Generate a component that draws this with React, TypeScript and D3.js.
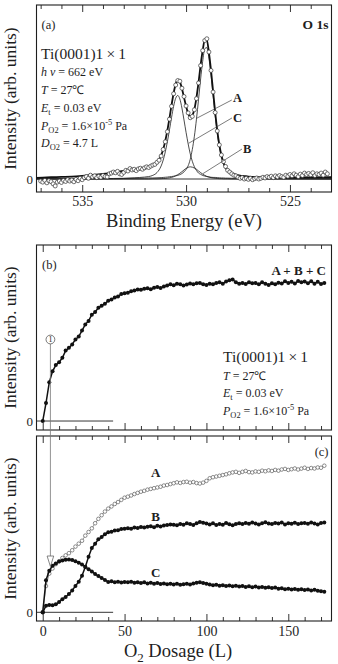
import React, { useEffect, useRef } from 'react';
import * as d3 from 'd3';

// (a) O 1s spectrum taken at 4.7 L: one point every 0.1 eV from 537.0 eV
const beStart = 537.0;
const beStep = -0.1;
const o1sData = [
  -0.012, -0.018, -0.008, -0.022, -0.01, -0.015, -0.028, -0.04, -0.018, -0.012,
  -0.02, -0.008, -0.014, -0.004, -0.012, -0.006, -0.016, -0.002, -0.01, 0.004,
  -0.004, 0.008, 0.014, 0.004, 0.022, 0.012, 0.018, 0.008, 0.016, 0.01,
  0.02, 0.014, 0.012, 0.03, 0.034, 0.04, 0.036, 0.044, 0.03, 0.026,
  0.038, 0.05, 0.046, 0.06, 0.052, 0.056, 0.048, 0.058, 0.062, 0.056,
  0.064, 0.07, 0.066, 0.074, 0.08, 0.084, 0.096, 0.108, 0.132, 0.17,
  0.214, 0.272, 0.344, 0.418, 0.49, 0.54, 0.566, 0.562, 0.522, 0.474,
  0.42, 0.38, 0.352, 0.36, 0.398, 0.462, 0.552, 0.652, 0.738, 0.796,
  0.806, 0.73, 0.624, 0.5, 0.382, 0.276, 0.196, 0.138, 0.1, 0.072,
  0.05, 0.04, 0.03, 0.022, 0.018, 0.01, 0.004, 0.008, 0.0, 0.004,
  -0.002, 0.004, -0.004, 0.002, 0.006, 0.0, 0.004, 0.01, 0.006, 0.014,
  0.01, 0.016, 0.008, 0.018, 0.012, 0.02, 0.014, 0.01, 0.022, 0.016,
  0.026, 0.018, 0.03, 0.022, 0.014, 0.028, 0.02, 0.034, 0.026, 0.032,
  0.024, 0.036, 0.02, 0.03, 0.026, 0.034, 0.022, 0.04, 0.03,
];

// fitted envelope and the three components of (a)
const fitEnergy = [
  537.2, 536.5, 536, 535.5, 535, 534.5, 534, 533.5, 533, 532.5,
  532, 531.8, 531.6, 531.4, 531.2, 531.1, 531.0, 530.9, 530.8, 530.7,
  530.6, 530.5, 530.4, 530.3, 530.2, 530.1, 530.0, 529.9, 529.8, 529.7,
  529.6, 529.5, 529.4, 529.3, 529.2, 529.1, 529.0, 528.9, 528.8, 528.7,
  528.6, 528.5, 528.4, 528.3, 528.2, 528.1, 528.0, 527.8, 527.6, 527.4,
  527.2, 527.0, 526.5, 526, 525, 524, 523,
];
const fitTotal = [
  0.007, 0.01, 0.012, 0.014, 0.018, 0.023, 0.029, 0.037, 0.047, 0.055,
  0.064, 0.069, 0.078, 0.095, 0.136, 0.171, 0.219, 0.279, 0.349, 0.424,
  0.493, 0.546, 0.569, 0.559, 0.52, 0.469, 0.418, 0.377, 0.358, 0.366,
  0.401, 0.468, 0.555, 0.655, 0.739, 0.799, 0.796, 0.727, 0.625, 0.504,
  0.384, 0.28, 0.197, 0.137, 0.095, 0.068, 0.053, 0.033, 0.025, 0.02,
  0.017, 0.014, 0.01, 0.009, 0.009, 0.009, 0.01,
];
const fitA = [
  0.001, 0.001, 0.001, 0.001, 0.001, 0.001, 0.002, 0.002, 0.003, 0.004,
  0.005, 0.006, 0.006, 0.007, 0.008, 0.009, 0.01, 0.011, 0.013, 0.014,
  0.016, 0.018, 0.021, 0.025, 0.031, 0.041, 0.055, 0.076, 0.113, 0.17,
  0.246, 0.344, 0.457, 0.575, 0.677, 0.749, 0.755, 0.695, 0.597, 0.481,
  0.365, 0.264, 0.183, 0.124, 0.084, 0.058, 0.044, 0.026, 0.019, 0.014,
  0.012, 0.01, 0.006, 0.005, 0.003, 0.002, 0.001,
];
const fitB = [
  0, 0, 0, 0, 0, 0, 0, 0, 0, 0,
  0, 0, 0.001, 0.001, 0.002, 0.003, 0.003, 0.005, 0.007, 0.009,
  0.013, 0.019, 0.025, 0.033, 0.042, 0.052, 0.061, 0.067, 0.07, 0.068,
  0.063, 0.056, 0.046, 0.037, 0.028, 0.021, 0.015, 0.011, 0.008, 0.006,
  0.004, 0.003, 0.002, 0.002, 0.001, 0.001, 0.001, 0, 0, 0,
  0, 0, 0, 0, 0, 0, 0,
];
const fitC = [
  0.001, 0.001, 0.001, 0.001, 0.002, 0.002, 0.002, 0.003, 0.004, 0.007,
  0.011, 0.014, 0.021, 0.037, 0.075, 0.109, 0.156, 0.214, 0.282, 0.353,
  0.418, 0.464, 0.48, 0.46, 0.408, 0.339, 0.268, 0.202, 0.145, 0.102,
  0.07, 0.049, 0.034, 0.027, 0.02, 0.017, 0.014, 0.012, 0.01, 0.009,
  0.009, 0.008, 0.007, 0.006, 0.006, 0.005, 0.005, 0.004, 0.004, 0.003,
  0.003, 0.003, 0.002, 0.002, 0.001, 0.001, 0.001,
];

// (b) and (c) uptake curves: one point every 2 L from 0 L
const doseStep = 2;
const uptakeSum = [
  0, 0.13, 0.28, 0.36, 0.405, 0.425, 0.458, 0.51, 0.53, 0.555,
  0.59, 0.612, 0.655, 0.7, 0.725, 0.77, 0.79, 0.82, 0.835, 0.85,
  0.872, 0.88, 0.895, 0.902, 0.92, 0.925, 0.93, 0.94, 0.945, 0.952,
  0.95, 0.958, 0.962, 0.955, 0.966, 0.97, 0.963, 0.975, 0.982, 0.99,
  0.984, 0.995, 0.99, 0.982, 0.988, 0.996, 0.99, 0.998, 1.0, 0.99,
  0.985, 0.995, 0.99, 1.0, 1.006, 0.995, 1.01, 1.02, 1.025, 1.005,
  0.995, 1.0, 0.992, 1.005, 0.998, 1.0, 0.99, 1.006, 0.995, 0.985,
  0.998, 0.99, 1.002, 0.996, 1.012, 1.0, 1.008, 0.996, 1.015, 1.005,
  1.01, 0.998, 1.012, 0.995, 1.008, 0.992, 1.0,
];
const uptakeA = [
  0, 0.18, 0.265, 0.3, 0.33, 0.35, 0.372, 0.39, 0.405, 0.425,
  0.45, 0.47, 0.49, 0.525, 0.55, 0.575, 0.61, 0.64, 0.665, 0.69,
  0.71, 0.725, 0.742, 0.755, 0.77, 0.785, 0.792, 0.8, 0.81, 0.818,
  0.826, 0.832, 0.84, 0.845, 0.85, 0.855, 0.86, 0.868, 0.872, 0.878,
  0.884, 0.89, 0.886, 0.892, 0.894, 0.888, 0.892, 0.885, 0.882, 0.888,
  0.9, 0.918, 0.925, 0.93, 0.935, 0.94, 0.945, 0.952, 0.958, 0.962,
  0.955, 0.962, 0.968, 0.96, 0.958, 0.965, 0.962, 0.97, 0.966, 0.972,
  0.968, 0.975, 0.97, 0.978, 0.982, 0.975, 0.98, 0.985, 0.978, 0.984,
  0.99, 0.982, 0.988, 0.985, 0.992, 0.99, 1.004,
];
const uptakeB = [
  0, 0.045, 0.05, 0.048, 0.055, 0.07, 0.09, 0.105, 0.125, 0.15,
  0.18, 0.21, 0.25, 0.31, 0.38, 0.44, 0.47, 0.5, 0.515, 0.535,
  0.548, 0.552, 0.56, 0.562, 0.57, 0.572, 0.575, 0.572, 0.58, 0.578,
  0.584, 0.58, 0.586, 0.59, 0.582, 0.592, 0.588, 0.595, 0.598, 0.602,
  0.6, 0.596, 0.605, 0.6, 0.61, 0.604, 0.598, 0.61, 0.618, 0.614,
  0.608, 0.602, 0.61, 0.598, 0.605, 0.6, 0.612, 0.603, 0.596, 0.605,
  0.61, 0.604, 0.612, 0.606, 0.615, 0.608, 0.602, 0.61, 0.616, 0.608,
  0.605, 0.612, 0.608, 0.615, 0.602, 0.61, 0.606, 0.614, 0.604, 0.61,
  0.612, 0.607, 0.615, 0.608, 0.602, 0.612, 0.615,
];
const uptakeC = [
  0, 0.22, 0.285, 0.318, 0.335, 0.348, 0.355, 0.36, 0.362, 0.358,
  0.35, 0.34, 0.328, 0.312, 0.295, 0.28, 0.262, 0.248, 0.235, 0.222,
  0.208, 0.212, 0.206, 0.21, 0.204, 0.208, 0.205, 0.21, 0.202, 0.206,
  0.2, 0.205, 0.198, 0.202, 0.196, 0.2, 0.194, 0.198, 0.192, 0.196,
  0.19, 0.195, 0.188, 0.192, 0.196, 0.19, 0.198, 0.202, 0.205, 0.2,
  0.196, 0.19, 0.185, 0.188, 0.182, 0.186, 0.18, 0.184, 0.178, 0.182,
  0.176, 0.18, 0.174, 0.178, 0.172, 0.176, 0.17, 0.174, 0.168, 0.172,
  0.166, 0.17, 0.162, 0.165, 0.158, 0.162, 0.156, 0.16, 0.154, 0.158,
  0.152, 0.156, 0.15, 0.154, 0.148, 0.145, 0.14,
];

const beMajor = [535, 530, 525];
const beMinor = [537, 536, 534, 533, 532, 531, 529, 528, 527, 526, 524];
const doseMajor = [0, 50, 100, 150];
const doseMinor = [10, 20, 30, 40, 60, 70, 80, 90, 110, 120, 130, 140, 160, 170];
const exposure = 4.7; // L, dosage of spectrum (a)

const FONT = '"Liberation Serif", "Times New Roman", Times, serif';
const INK = '#1e1e1e';

type Seg = { t: string; it?: boolean; sub?: boolean; sup?: boolean };

const buildChart = (el: SVGSVGElement) => {
  const svg = d3.select(el);
  svg.selectAll('*').remove();

  const L = 36.5,
    R = 331.5;
  const xBE = d3.scaleLinear().domain([537.2, 523.0]).range([L, R]);
  const yA = d3.scaleLinear().domain([-0.0747, 1.0]).range([192, 5]);
  const xDose = d3.scaleLinear().domain([-3.8, 176.4]).range([L, R]);
  const yB = d3.scaleLinear().domain([-0.065, 1.275]).range([430, 245]);
  const yC = d3.scaleLinear().domain([-0.0596, 1.2075]).range([621, 436]);

  const rich = (x: number, y: number, size: number, segs: Seg[], anchor = 'start', weight = 'normal') => {
    const text = svg
      .append('text')
      .attr('x', x)
      .attr('y', y)
      .attr('font-family', FONT)
      .attr('font-size', size)
      .attr('font-weight', weight)
      .attr('fill', INK)
      .attr('text-anchor', anchor);
    let shift = 0;
    segs.forEach(s => {
      const target = s.sub ? size * 0.28 : s.sup ? -size * 0.4 : 0;
      const span = text.append('tspan').attr('dy', target - shift).text(s.t);
      if (s.it) span.attr('font-style', 'italic');
      if (s.sub || s.sup) span.attr('font-size', size * 0.7);
      shift = target;
    });
    return text;
  };

  const styleAxis = (g: any) => {
    g.select('.domain').remove();
    g.selectAll('line').attr('stroke', INK).attr('stroke-width', 0.9);
    g.selectAll('text').attr('font-family', FONT).attr('font-size', 14).attr('fill', INK);
  };

  // inward ticks on top and bottom of a frame, labels below if asked
  const xAxes = (x: any, major: number[], minor: number[], y0: number, y1: number, pad: number | null) => {
    [
      [major, 7],
      [minor, 4],
    ].forEach(([vals, len]: any) => {
      svg
        .append('g')
        .attr('transform', `translate(0,${y1})`)
        .call(d3.axisBottom(x).tickValues(vals).tickSizeInner(-len).tickSizeOuter(0).tickFormat(() => ''))
        .call(styleAxis);
      svg
        .append('g')
        .attr('transform', `translate(0,${y0})`)
        .call(d3.axisTop(x).tickValues(vals).tickSizeInner(-len).tickSizeOuter(0).tickFormat(() => ''))
        .call(styleAxis);
    });
    if (pad !== null) {
      svg
        .append('g')
        .attr('transform', `translate(0,${y1})`)
        .call(d3.axisBottom(x).tickValues(major).tickSize(0).tickPadding(pad).tickFormat(d3.format('d')))
        .call(styleAxis);
    }
  };

  const frame = (y0: number, y1: number) =>
    svg
      .append('rect')
      .attr('x', L)
      .attr('y', y0)
      .attr('width', R - L)
      .attr('height', y1 - y0)
      .attr('fill', 'none')
      .attr('stroke', INK)
      .attr('stroke-width', 1.1);

  const yTitle = (cy: number) =>
    svg
      .append('text')
      .attr('transform', `translate(16,${cy}) rotate(-90)`)
      .attr('text-anchor', 'middle')
      .attr('font-family', FONT)
      .attr('font-size', 17.5)
      .attr('fill', INK)
      .text('Intensity (arb. units)');

  const zeroLabel = (y: number) =>
    svg
      .append('text')
      .attr('x', 33)
      .attr('y', y)
      .attr('dy', '0.35em')
      .attr('text-anchor', 'end')
      .attr('font-family', FONT)
      .attr('font-size', 13)
      .attr('fill', INK)
      .text('0');

  // ****************** panel (a) ***************************
  frame(5, 192);
  xAxes(xBE, beMajor, beMinor, 5, 192, 4.3);
  yTitle(98.5);
  zeroLabel(yA(0));

  svg
    .append('line')
    .attr('x1', L)
    .attr('x2', R)
    .attr('y1', yA(0))
    .attr('y2', yA(0))
    .attr('stroke', INK)
    .attr('stroke-width', 0.9);

  const fitLine = (vals: number[]) =>
    d3
      .line<number>()
      .x((d, i) => xBE(fitEnergy[i]))
      .y(d => yA(d))
      .curve(d3.curveMonotoneX)(vals);

  [fitA, fitB, fitC].forEach(vals => {
    svg.append('path').attr('d', fitLine(vals)).attr('fill', 'none').attr('stroke', INK).attr('stroke-width', 0.8);
  });
  svg.append('path').attr('d', fitLine(fitTotal)).attr('fill', 'none').attr('stroke', '#111').attr('stroke-width', 1.8);

  svg
    .append('g')
    .selectAll('circle')
    .data(o1sData)
    .enter()
    .append('circle')
    .attr('cx', (d, i) => xBE(beStart + i * beStep))
    .attr('cy', d => yA(d))
    .attr('r', 2)
    .attr('fill', '#fff')
    .attr('stroke', '#333')
    .attr('stroke-width', 0.7);

  // component labels with leader lines
  const leaders = [
    { name: 'A', tx: 527.74, ty: 0.44, from: [527.8, 0.454], to: [529.49, 0.349] },
    { name: 'C', tx: 527.74, ty: 0.33, from: [527.79, 0.351], to: [529.88, 0.205] },
    { name: 'B', tx: 527.26, ty: 0.152, from: [527.31, 0.172], to: [529.2, 0.03] },
  ];
  leaders.forEach(l => {
    svg
      .append('line')
      .attr('x1', xBE(l.from[0]))
      .attr('y1', yA(l.from[1]))
      .attr('x2', xBE(l.to[0]))
      .attr('y2', yA(l.to[1]))
      .attr('stroke', '#444')
      .attr('stroke-width', 0.7);
    rich(xBE(l.tx), yA(l.ty), 12.5, [{ t: l.name }], 'start', 'bold');
  });

  rich(41.5, 28.5, 12.5, [{ t: '(a)' }]);
  rich(328.5, 28.5, 13.5, [{ t: 'O 1s' }], 'end', 'bold');
  rich(41, 58.5, 15.5, [{ t: 'Ti(0001)1\u2009×\u20091' }]);
  rich(41, 75.5, 12, [{ t: 'h ν', it: true }, { t: ' = 662 eV' }]);
  rich(41, 94, 12, [{ t: 'T', it: true }, { t: ' = 27℃' }]);
  rich(41, 111.5, 12, [{ t: 'E', it: true }, { t: 't', sub: true }, { t: ' = 0.03 eV' }]);
  rich(41, 129.5, 12, [{ t: 'P', it: true }, { t: 'O2', sub: true }, { t: ' = 1.6×10' }, { t: '-5', sup: true }, { t: ' Pa' }]);
  rich(41, 147, 12, [{ t: 'D', it: true }, { t: 'O2', sub: true }, { t: ' = 4.7 L' }]);

  svg
    .append('text')
    .attr('x', (L + R) / 2)
    .attr('y', 227)
    .attr('text-anchor', 'middle')
    .attr('font-family', FONT)
    .attr('font-size', 18.5)
    .attr('fill', INK)
    .text('Binding Energy (eV)');

  // ****************** panel (b) ***************************
  frame(245, 430);
  xAxes(xDose, doseMajor, doseMinor, 245, 430, null);
  yTitle(337.5);
  zeroLabel(yB(0));

  // ****************** panel (c) ***************************
  frame(436, 621);
  xAxes(xDose, doseMajor, doseMinor, 436, 621, 5.3);
  yTitle(528.5);
  zeroLabel(yC(0));

  [yB, yC].forEach(y => {
    svg
      .append('line')
      .attr('x1', L)
      .attr('x2', xDose(43))
      .attr('y1', y(0))
      .attr('y2', y(0))
      .attr('stroke', INK)
      .attr('stroke-width', 0.9);
  });

  const series = (vals: number[], y: any, filled: boolean) => {
    const g = svg.append('g');
    g.append('path')
      .attr(
        'd',
        d3
          .line<number>()
          .x((d, i) => xDose(i * doseStep))
          .y(d => y(d))(vals)
      )
      .attr('fill', 'none')
      .attr('stroke', filled ? '#111' : '#555')
      .attr('stroke-width', filled ? 1.5 : 0.6);
    g.selectAll('circle')
      .data(vals)
      .enter()
      .append('circle')
      .attr('cx', (d, i) => xDose(i * doseStep))
      .attr('cy', d => y(d))
      .attr('r', filled ? 2 : 1.8)
      .attr('fill', filled ? '#111' : '#fff')
      .attr('stroke', filled ? 'none' : '#444')
      .attr('stroke-width', 0.6);
  };

  series(uptakeSum, yB, true);
  series(uptakeA, yC, false);
  series(uptakeB, yC, true);
  series(uptakeC, yC, true);

  rich(42, 269, 12.5, [{ t: '(b)' }]);
  rich(326, 275, 13, [{ t: 'A + B + C' }], 'end', 'bold');
  rich(223, 362, 15.5, [{ t: 'Ti(0001)1\u2009×\u20091' }]);
  rich(223, 379.5, 12, [{ t: 'T', it: true }, { t: ' = 27℃' }]);
  rich(223, 397, 12, [{ t: 'E', it: true }, { t: 't', sub: true }, { t: ' = 0.03 eV' }]);
  rich(223, 415, 12, [{ t: 'P', it: true }, { t: 'O2', sub: true }, { t: ' = 1.6×10' }, { t: '-5', sup: true }, { t: ' Pa' }]);

  rich(328.5, 456, 12.5, [{ t: '(c)' }], 'end');
  rich(xDose(69), yC(0.93), 13, [{ t: 'A' }], 'middle', 'bold');
  rich(xDose(69), yC(0.622), 13, [{ t: 'B' }], 'middle', 'bold');
  rich(xDose(69), yC(0.242), 13, [{ t: 'C' }], 'middle', 'bold');

  // marker (1): exposure of spectrum (a), arrow down onto curve A
  const mx = xDose(exposure);
  svg
    .append('line')
    .attr('x1', mx)
    .attr('x2', mx)
    .attr('y1', 344)
    .attr('y2', 557)
    .attr('stroke', '#777')
    .attr('stroke-width', 0.8);
  svg
    .append('circle')
    .attr('cx', mx)
    .attr('cy', 339.5)
    .attr('r', 4.4)
    .attr('fill', '#fff')
    .attr('stroke', '#555')
    .attr('stroke-width', 0.8);
  svg
    .append('text')
    .attr('x', mx)
    .attr('y', 339.5)
    .attr('dy', '0.35em')
    .attr('text-anchor', 'middle')
    .attr('font-family', FONT)
    .attr('font-size', 8)
    .attr('fill', INK)
    .text('1');
  svg
    .append('path')
    .attr('d', `M${mx - 3.3},556 L${mx + 3.3},556 L${mx},566.5 Z`)
    .attr('fill', '#fff')
    .attr('stroke', '#666')
    .attr('stroke-width', 0.8);

  rich((L + R) / 2 - 6, 657, 18.5, [{ t: 'O' }, { t: '2', sub: true }, { t: ' Dosage (L)' }], 'middle');
};

const App = () => {
  const ref = useRef<SVGSVGElement>(null);

  useEffect(() => {
    if (ref.current) buildChart(ref.current);
  }, []);

  return (
    <div style={{ position: 'absolute', left: 0, top: 0 }}>
      <svg ref={ref} width={338} height={664} style={{ display: 'block', background: '#fff' }} />
    </div>
  );
};

export default App;
